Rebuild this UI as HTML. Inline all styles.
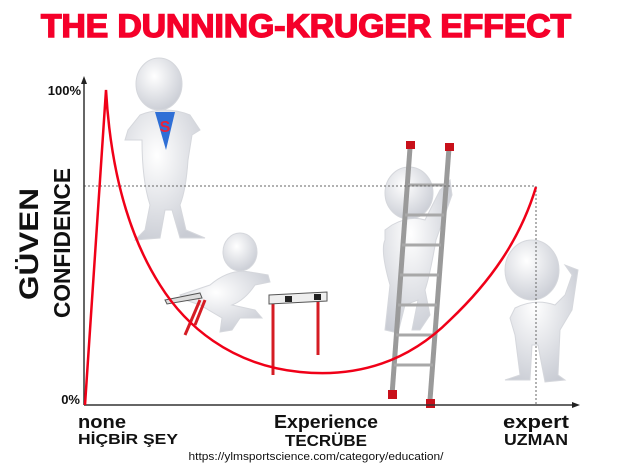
<!DOCTYPE html>
<html><head><meta charset="utf-8"><style>
html,body{margin:0;padding:0;background:#fff}
svg{display:block}
</style></head><body>
<svg width="627" height="465" viewBox="0 0 627 465" xmlns="http://www.w3.org/2000/svg">
<defs>
<radialGradient id="g" cx="40%" cy="35%" r="70%"><stop offset="0" stop-color="#fff"/><stop offset="1" stop-color="#c9ccd4"/></radialGradient>
</defs>
<text x="306" y="37" text-anchor="middle" font-family="Liberation Sans, sans-serif" font-weight="900" font-size="32" fill="#f5002a" stroke="#f5002a" stroke-width="1.5" textLength="530" lengthAdjust="spacingAndGlyphs">THE DUNNING-KRUGER EFFECT</text>

<g fill="url(#g)" stroke="#d5d7dc" stroke-width="1">
<ellipse cx="159" cy="84" rx="23" ry="26"/>
<path d="M140 115 Q165 105 190 115 L200 130 L192 135 L188 160 Q186 190 180 205 L186 230 L205 238 L180 238 L172 210 L165 210 L160 238 L135 240 L145 230 L150 205 Q142 180 142 140 L125 140 L128 130 Z"/>
<ellipse cx="240" cy="252" rx="17" ry="19"/>
<path d="M180 295 L210 285 Q230 268 250 272 L268 275 L270 282 L255 285 Q245 300 232 305 L255 310 L262 318 L240 318 L232 330 L220 332 L222 318 L200 305 L185 300 Z"/>
<ellipse cx="409" cy="193" rx="24" ry="26"/>
<path d="M392 225 Q410 215 425 220 L440 190 L450 180 L452 195 L436 240 Q430 275 425 290 L430 315 L420 330 L412 330 L418 300 L405 305 L398 333 L385 330 L390 285 Q380 250 385 240 L385 230 Z"/>
<ellipse cx="532" cy="270" rx="27" ry="30"/>
<path d="M515 308 Q535 298 555 305 L565 295 L572 275 L565 265 L578 270 L572 310 L560 330 L558 375 L565 380 L545 382 L538 345 L532 345 L530 380 L505 380 L520 375 L515 335 L510 318 Z"/>
</g>
<path d="M155 112 L175 112 L166 150 Z" fill="#2f6fd6"/>
<text x="165" y="132" text-anchor="middle" font-family="Liberation Sans, sans-serif" font-weight="900" font-size="16" fill="#e9233a">S</text>

<g stroke="#d51c24" stroke-width="3" fill="none">
<line x1="273" y1="300" x2="273" y2="375"/>
<line x1="318" y1="296" x2="318" y2="355"/>
<line x1="200" y1="300" x2="185" y2="335"/>
<line x1="205" y1="300" x2="195" y2="325"/>
</g>
<path d="M269 295 L327 292 L327 301 L269 304 Z" fill="#eee" stroke="#555" stroke-width="1"/>
<rect x="285" y="296" width="7" height="6" fill="#222"/><rect x="314" y="294" width="7" height="6" fill="#222"/>
<path d="M165 300 L200 293 L202 298 L167 304 Z" fill="#ddd" stroke="#555"/>

<g stroke="#9a9a9a" stroke-width="5">
<line x1="410" y1="148" x2="392" y2="395"/>
<line x1="449" y1="148" x2="430" y2="400"/>
</g>
<g stroke="#a8a8a8" stroke-width="3">
<line x1="408" y1="185" x2="446" y2="185"/><line x1="405" y1="215" x2="444" y2="215"/>
<line x1="402" y1="245" x2="441" y2="245"/><line x1="400" y1="275" x2="439" y2="275"/>
<line x1="398" y1="305" x2="437" y2="305"/><line x1="396" y1="335" x2="435" y2="335"/>
<line x1="394" y1="365" x2="433" y2="365"/>
</g>
<rect x="406" y="141" width="9" height="8" fill="#c8101a"/><rect x="445" y="143" width="9" height="8" fill="#c8101a"/>
<rect x="388" y="390" width="9" height="9" fill="#c8101a"/><rect x="426" y="399" width="9" height="9" fill="#c8101a"/>

<g stroke="#666" stroke-width="1" stroke-dasharray="2,2" fill="none">
<line x1="84" y1="186" x2="536" y2="186"/>
<line x1="536" y1="186" x2="536" y2="405"/>
</g>

<g stroke="#333" stroke-width="1.5">
<line x1="84" y1="405" x2="84" y2="80"/>
<line x1="84" y1="405" x2="574" y2="405"/>
</g>
<path d="M84 76 L81 84 L87 84 Z" fill="#222"/>
<path d="M580 405 L572 402 L572 408 Z" fill="#222"/>

<path d="M85 405 L106 90 C110 160 125 230 160 285 C185 325 230 365 300 372 C360 378 410 360 450 320 C490 282 520 240 536 187" fill="none" stroke="#f00018" stroke-width="2.5"/>

<g font-family="Liberation Sans, sans-serif" font-weight="900" fill="#111">
<text x="81" y="95" text-anchor="end" font-size="13">100%</text>
<text x="80" y="404" text-anchor="end" font-size="13">0%</text>
<text transform="translate(38,300) rotate(-90)" font-size="27" textLength="112" lengthAdjust="spacingAndGlyphs">GÜVEN</text>
<text transform="translate(70,318) rotate(-90)" font-size="23" textLength="150" lengthAdjust="spacingAndGlyphs">CONFIDENCE</text>
<text x="78" y="428" font-size="18" textLength="48" lengthAdjust="spacingAndGlyphs">none</text>
<text x="78" y="444" font-size="15" font-weight="700" textLength="100" lengthAdjust="spacingAndGlyphs">HİÇBİR ŞEY</text>
<text x="326" y="428" text-anchor="middle" font-size="18" textLength="104" lengthAdjust="spacingAndGlyphs">Experience</text>
<text x="326" y="446" text-anchor="middle" font-size="16" font-weight="700" textLength="82" lengthAdjust="spacingAndGlyphs">TECRÜBE</text>
<text x="536" y="428" text-anchor="middle" font-size="18" textLength="66" lengthAdjust="spacingAndGlyphs">expert</text>
<text x="536" y="445" text-anchor="middle" font-size="16" font-weight="700" textLength="64" lengthAdjust="spacingAndGlyphs">UZMAN</text>
<text x="316" y="460" text-anchor="middle" font-size="11" font-weight="400" textLength="255" lengthAdjust="spacingAndGlyphs">https://ylmsportscience.com/category/education/</text>
</g>
</svg>
</body></html>
